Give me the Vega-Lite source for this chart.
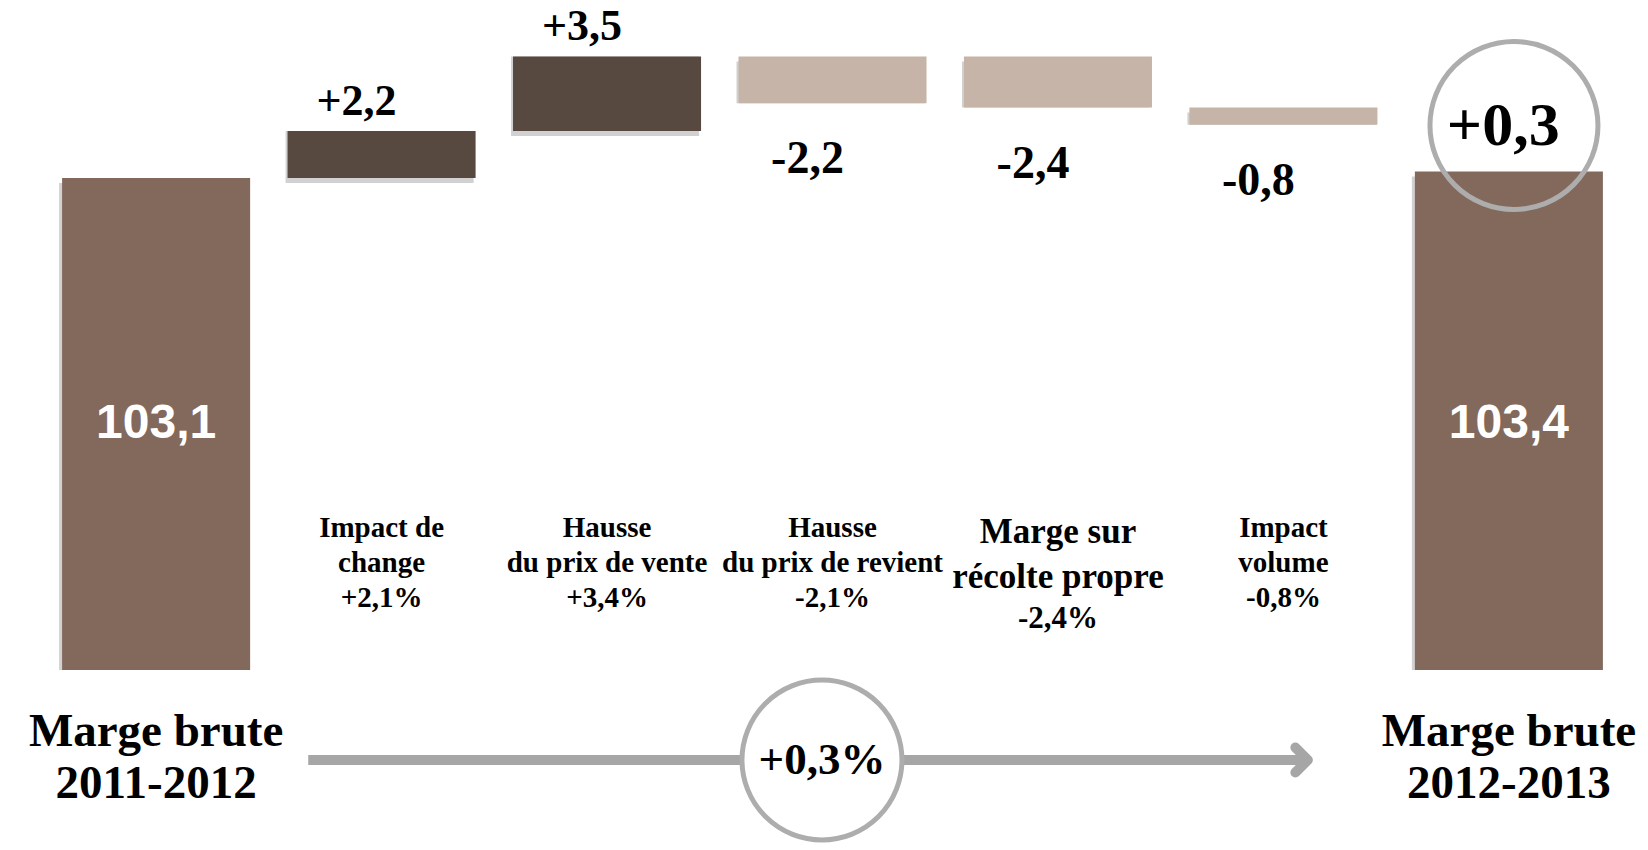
{
  "$schema": "https://vega.github.io/schema/vega-lite/v6.json",
  "autosize": {"type": "pad"},
  "padding": {"left": 17, "top": 0, "right": 0, "bottom": 0},
  "background": "white",
  "spacing": 0,
  "bounds": "flush",
  "config": {"view": {"stroke": null}},
  "datasets": {
    "totals": [
      {"cat": "Marge brute 2011-2012", "value": 103.1, "type": "total", "label": "103,1", "name": "Marge brute\n2011-2012", "change": null},
      {"cat": "Marge brute 2012-2013", "value": 103.4, "type": "total", "label": "103,4", "name": "Marge brute\n2012-2013", "change": "+0,3"}
    ],
    "deltas": [
      {"cat": "Impact de change", "start": 103.1, "end": 105.3, "type": "hausse", "label": "+2,2", "name": "Impact de\nchange", "pct": "+2,1%"},
      {"cat": "Hausse du prix de vente", "start": 105.3, "end": 108.8, "type": "hausse", "label": "+3,5", "name": "Hausse\ndu prix de vente", "pct": "+3,4%"},
      {"cat": "Hausse du prix de revient", "start": 108.8, "end": 106.6, "type": "baisse", "label": "-2,2", "name": "Hausse\ndu prix de revient", "pct": "-2,1%"},
      {"cat": "Marge sur récolte propre", "start": 108.8, "end": 106.4, "type": "baisse", "label": "-2,4", "name": "Marge sur\nrécolte propre", "pct": "-2,4%"},
      {"cat": "Impact volume", "start": 106.4, "end": 105.6, "type": "baisse", "label": "-0,8", "name": "Impact\nvolume", "pct": "-0,8%"}
    ],
    "evolution": [
      {"from": "Impact de change", "to": "Impact volume", "at": "Hausse du prix de revient", "label": "+0,3%"}
    ]
  },
  "vconcat": [
    {
      "width": 1631,
      "height": 670,
      "encoding": {
        "x": {"field": "cat", "type": "nominal", "axis": null,
          "scale": {"domain": ["Marge brute 2011-2012", "Impact de change", "Hausse du prix de vente", "Hausse du prix de revient", "Marge sur récolte propre", "Impact volume", "Marge brute 2012-2013"], "paddingInner": 0.166, "paddingOuter": 0.2}}
      },
      "layer": [
        {
          "data": {"name": "totals"},
          "mark": {"type": "bar", "color": "#7a7a7a", "opacity": 0.35, "yOffset": 5, "xOffset": -3, "clip": true},
          "encoding": {"y": {"field": "value", "type": "quantitative", "axis": null, "scale": {"domain": [80, 111.45], "zero": false, "nice": false}}}
        },
        {
          "data": {"name": "deltas"},
          "mark": {"type": "bar", "color": "#7a7a7a", "opacity": 0.35, "yOffset": 5, "xOffset": -2},
          "encoding": {
            "y": {"field": "start", "type": "quantitative", "axis": null, "scale": {"domain": [80, 111.45], "zero": false, "nice": false}},
            "y2": {"field": "end"}
          }
        },
        {
          "data": {"name": "totals"},
          "mark": {"type": "bar", "clip": true},
          "encoding": {
            "y": {"field": "value", "type": "quantitative", "axis": null, "scale": {"domain": [80, 111.45], "zero": false, "nice": false}},
            "color": {"field": "type", "type": "nominal", "legend": null, "scale": {"domain": ["total", "hausse", "baisse"], "range": ["#83695C", "#574840", "#C6B4A8"]}}
          }
        },
        {
          "data": {"name": "deltas"},
          "mark": {"type": "bar"},
          "encoding": {
            "y": {"field": "start", "type": "quantitative", "axis": null, "scale": {"domain": [80, 111.45], "zero": false, "nice": false}},
            "y2": {"field": "end"},
            "color": {"field": "type", "type": "nominal", "legend": null, "scale": {"domain": ["total", "hausse", "baisse"], "range": ["#83695C", "#574840", "#C6B4A8"]}}
          }
        },
        {
          "data": {"name": "deltas"},
          "transform": [{"filter": "datum.type == 'hausse'"}],
          "mark": {"type": "text", "font": "Liberation Serif", "fontWeight": "bold", "fontSize": 44, "baseline": "alphabetic", "dx": -25, "dy": -16, "color": "black"},
          "encoding": {
            "y": {"field": "end", "type": "quantitative", "axis": null, "scale": {"domain": [80, 111.45], "zero": false, "nice": false}},
            "text": {"field": "label"}
          }
        },
        {
          "data": {"name": "deltas"},
          "transform": [{"filter": "datum.type == 'baisse'"}],
          "mark": {"type": "text", "font": "Liberation Serif", "fontWeight": "bold", "fontSize": 46, "baseline": "alphabetic", "dx": -25, "dy": 70, "color": "black"},
          "encoding": {
            "y": {"field": "end", "type": "quantitative", "axis": null, "scale": {"domain": [80, 111.45], "zero": false, "nice": false}},
            "text": {"field": "label"}
          }
        },
        {
          "data": {"name": "totals"},
          "mark": {"type": "text", "font": "Liberation Sans Narrow, Arial Narrow, Liberation Sans", "fontWeight": "bold", "fontSize": 48, "baseline": "middle", "dy": 89, "color": "white"},
          "encoding": {"text": {"field": "label"}}
        },
        {
          "data": {"name": "totals"},
          "transform": [{"filter": "datum.change != null"}],
          "mark": {"type": "point", "shape": "circle", "size": 28224, "filled": false, "stroke": "#ADADAD", "strokeWidth": 5, "opacity": 1, "yOffset": -46},
          "encoding": {
            "x": {"field": "cat", "type": "nominal", "bandPosition": 0.527, "axis": null},
            "y": {"field": "value", "type": "quantitative", "axis": null, "scale": {"domain": [80, 111.45], "zero": false, "nice": false}}
          }
        },
        {
          "data": {"name": "totals"},
          "transform": [{"filter": "datum.change != null"}],
          "mark": {"type": "text", "font": "Liberation Serif", "fontWeight": "bold", "fontSize": 62, "baseline": "middle", "dy": -45, "color": "black"},
          "encoding": {
            "x": {"field": "cat", "type": "nominal", "bandPosition": 0.47, "axis": null},
            "y": {"field": "value", "type": "quantitative", "axis": null, "scale": {"domain": [80, 111.45], "zero": false, "nice": false}},
            "text": {"field": "change"}
          }
        },
        {
          "data": {"name": "deltas"},
          "transform": [{"filter": "datum.cat != 'Marge sur récolte propre'"}],
          "mark": {"type": "text", "font": "Liberation Serif", "fontWeight": "bold", "fontSize": 29, "lineHeight": 35, "lineBreak": "\n", "baseline": "alphabetic", "dy": 202, "color": "black"},
          "encoding": {"text": {"field": "name"}}
        },
        {
          "data": {"name": "deltas"},
          "transform": [{"filter": "datum.cat != 'Marge sur récolte propre'"}],
          "mark": {"type": "text", "font": "Liberation Serif", "fontWeight": "bold", "fontSize": 29, "baseline": "alphabetic", "dy": 272, "color": "black"},
          "encoding": {"text": {"field": "pct"}}
        },
        {
          "data": {"name": "deltas"},
          "transform": [{"filter": "datum.cat == 'Marge sur récolte propre'"}],
          "mark": {"type": "text", "font": "Liberation Serif", "fontWeight": "bold", "fontSize": 35, "lineHeight": 45, "lineBreak": "\n", "baseline": "alphabetic", "dy": 208, "color": "black"},
          "encoding": {"text": {"field": "name"}}
        },
        {
          "data": {"name": "deltas"},
          "transform": [{"filter": "datum.cat == 'Marge sur récolte propre'"}],
          "mark": {"type": "text", "font": "Liberation Serif", "fontWeight": "bold", "fontSize": 31, "baseline": "alphabetic", "dy": 293, "color": "black"},
          "encoding": {"text": {"field": "pct"}}
        }
      ]
    },
    {
      "width": 1631,
      "height": 180,
      "layer": [
        {
          "data": {"name": "evolution"},
          "mark": {"type": "rule", "color": "#A6A6A6", "strokeWidth": 10},
          "encoding": {
            "x": {"field": "from", "type": "nominal", "bandPosition": 0.11, "axis": null,
              "scale": {"domain": ["Marge brute 2011-2012", "Impact de change", "Hausse du prix de vente", "Hausse du prix de revient", "Marge sur récolte propre", "Impact volume", "Marge brute 2012-2013"], "paddingInner": 0.166, "paddingOuter": 0.2}},
            "x2": {"field": "to", "bandPosition": 0.63}
          }
        },
        {
          "data": {"name": "evolution"},
          "mark": {"type": "point", "shape": "M -1 -1 L 0 0 L -1 1", "size": 625, "filled": false, "stroke": "#A6A6A6", "strokeWidth": 10, "strokeCap": "round", "strokeJoin": "round", "opacity": 1},
          "encoding": {
            "x": {"field": "to", "type": "nominal", "bandPosition": 0.63, "axis": null,
              "scale": {"domain": ["Marge brute 2011-2012", "Impact de change", "Hausse du prix de vente", "Hausse du prix de revient", "Marge sur récolte propre", "Impact volume", "Marge brute 2012-2013"], "paddingInner": 0.166, "paddingOuter": 0.2}}
          }
        },
        {
          "data": {"name": "evolution"},
          "mark": {"type": "point", "shape": "circle", "size": 25600, "filled": true, "fill": "white", "stroke": "#ADADAD", "strokeWidth": 5, "opacity": 1},
          "encoding": {
            "x": {"field": "at", "type": "nominal", "bandPosition": 0.444, "axis": null,
              "scale": {"domain": ["Marge brute 2011-2012", "Impact de change", "Hausse du prix de vente", "Hausse du prix de revient", "Marge sur récolte propre", "Impact volume", "Marge brute 2012-2013"], "paddingInner": 0.166, "paddingOuter": 0.2}}
          }
        },
        {
          "data": {"name": "evolution"},
          "mark": {"type": "text", "font": "Liberation Serif", "fontWeight": "bold", "fontSize": 45, "baseline": "middle", "color": "black"},
          "encoding": {
            "x": {"field": "at", "type": "nominal", "bandPosition": 0.444, "axis": null,
              "scale": {"domain": ["Marge brute 2011-2012", "Impact de change", "Hausse du prix de vente", "Hausse du prix de revient", "Marge sur récolte propre", "Impact volume", "Marge brute 2012-2013"], "paddingInner": 0.166, "paddingOuter": 0.2}},
            "text": {"field": "label"}
          }
        },
        {
          "data": {"name": "totals"},
          "mark": {"type": "text", "font": "Liberation Serif", "fontWeight": "bold", "fontSize": 47, "lineHeight": 52, "lineBreak": "\n", "baseline": "alphabetic", "dy": -14, "color": "black"},
          "encoding": {
            "x": {"field": "cat", "type": "nominal", "axis": null,
              "scale": {"domain": ["Marge brute 2011-2012", "Impact de change", "Hausse du prix de vente", "Hausse du prix de revient", "Marge sur récolte propre", "Impact volume", "Marge brute 2012-2013"], "paddingInner": 0.166, "paddingOuter": 0.2}},
            "text": {"field": "name"}
          }
        }
      ]
    }
  ]
}
